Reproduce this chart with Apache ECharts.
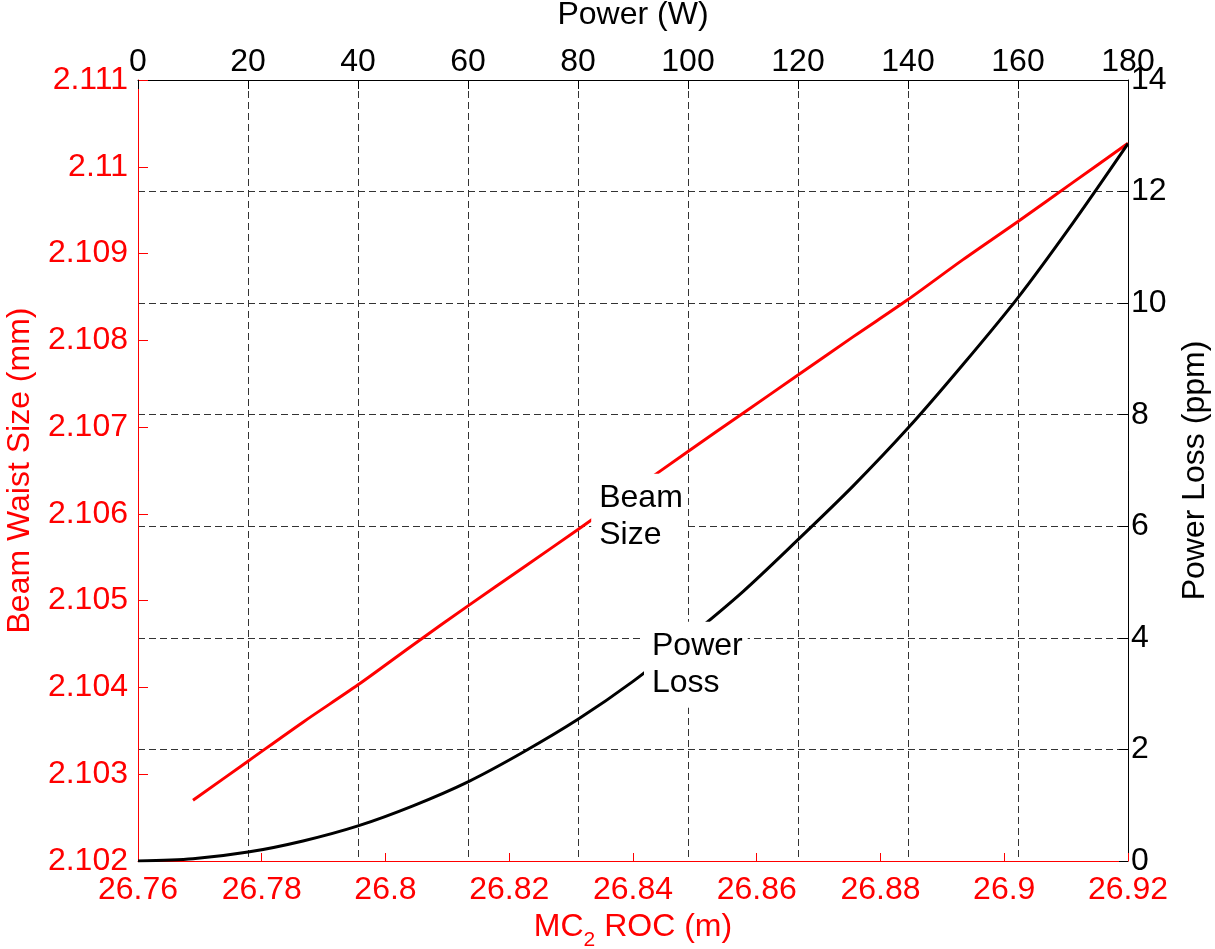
<!DOCTYPE html>
<html>
<head>
<meta charset="utf-8">
<script src="https://cdn.jsdelivr.net/npm/echarts@6/dist/echarts.min.js"></script>
<style>
  html, body { margin: 0; padding: 0; background: #fff; }
  #chart { width: 1215px; height: 949px; }
</style>
</head>
<body>
<div id="chart"></div>
<script>
// Beam waist size (mm) vs power (W)
var beamPower = [10, 20, 30, 40, 50, 60, 70, 80, 90, 100, 110, 120, 130, 140, 150, 160, 170, 180];
var beamSize = [2.10270, 2.10315, 2.10360, 2.10403, 2.10449, 2.10494, 2.10538, 2.10582, 2.10627,
                2.10672, 2.10716, 2.10760, 2.10804, 2.10847, 2.10893, 2.10937, 2.10982, 2.11027];

// Power loss (ppm) vs power (W)
var lossPower = [0, 10, 20, 30, 40, 50, 60, 70, 80, 90, 100, 110, 120, 130, 140, 150, 160, 170, 180];
var powerLoss = [0, 0.04, 0.16, 0.36, 0.63, 0.99, 1.42, 1.95, 2.54, 3.22, 4.00, 4.83, 5.76, 6.72,
                 7.76, 8.90, 10.10, 11.44, 12.86];

// axis ranges: [min, max, interval]
var rocRange = [26.76, 26.92, 0.02];
var powerRange = [0, 180, 20];
var sizeRange = [2.102, 2.111, 0.001];
var lossRange = [0, 14, 2];

// text annotations: [power, ppm, text]
var notes = [
  [82.4, 6.17, "Beam\nSize"],
  [92.0, 3.52, "Power\nLoss"]
];

var FONT = "'Liberation Sans', Arial, Helvetica, sans-serif";
var RED = "#ff0000";
var FS = 32;

function pairs(xs, ys) {
  return xs.map(function (x, i) { return [x, ys[i]]; });
}

var gridDash = { color: "#333", width: 1, type: [7, 4] };

var chart = echarts.init(document.getElementById("chart"));

var option = {
  animation: false,
  backgroundColor: "#fff",
  textStyle: { fontFamily: FONT },
  grid: { left: 138, right: 87, top: 80, bottom: 88, containLabel: false, outerBoundsMode: "none" },
  xAxis: [
    {
      type: "value",
      position: "bottom",
      min: rocRange[0], max: rocRange[1], interval: rocRange[2],
      name: "{a|MC}{b|2}{a| ROC (m)}",
      nameLocation: "middle",
      nameGap: 43,
      nameTextStyle: {
        rich: {
          a: { fontSize: FS, color: RED, fontFamily: FONT, lineHeight: FS, verticalAlign: "top" },
          b: { fontSize: 21, color: RED, fontFamily: FONT, lineHeight: 21, padding: [19, 0, 0, 0], verticalAlign: "top" }
        }
      },
      axisLine: { lineStyle: { color: RED, width: 1 } },
      axisTick: { inside: true, length: 8, lineStyle: { color: RED } },
      axisLabel: { color: RED, fontSize: FS, margin: 13, fontFamily: FONT },
      splitLine: { show: false }
    },
    {
      type: "value",
      position: "top",
      min: powerRange[0], max: powerRange[1], interval: powerRange[2],
      name: "Power (W)",
      nameLocation: "middle",
      nameGap: 49,
      nameTextStyle: { color: "#000", fontSize: FS, fontFamily: FONT },
      axisLine: { lineStyle: { color: "#000", width: 1 } },
      axisTick: { inside: true, length: 9, lineStyle: { color: "#000" } },
      axisLabel: { color: "#000", fontSize: FS, margin: 2, fontFamily: FONT },
      splitLine: { show: true, lineStyle: gridDash }
    }
  ],
  yAxis: [
    {
      type: "value",
      position: "left",
      min: sizeRange[0], max: sizeRange[1], interval: sizeRange[2],
      name: "Beam Waist Size (mm)",
      nameLocation: "middle",
      nameGap: 102,
      nameRotate: 90,
      nameTextStyle: { color: RED, fontSize: FS, fontFamily: FONT },
      axisLine: { show: true, lineStyle: { color: RED, width: 1 } },
      axisTick: { inside: true, length: 10, lineStyle: { color: RED } },
      axisLabel: { color: RED, fontSize: FS, margin: 10, fontFamily: FONT },
      splitLine: { show: false }
    },
    {
      type: "value",
      position: "right",
      min: lossRange[0], max: lossRange[1], interval: lossRange[2],
      name: "Power Loss (ppm)",
      nameLocation: "middle",
      nameGap: 51,
      nameRotate: 90,
      nameTextStyle: { color: "#000", fontSize: FS, fontFamily: FONT },
      axisLine: { show: true, lineStyle: { color: "#000", width: 1 } },
      axisTick: { inside: true, length: 9, lineStyle: { color: "#000" } },
      axisLabel: { color: "#000", fontSize: FS, margin: 3, fontFamily: FONT },
      splitLine: { show: true, lineStyle: gridDash }
    }
  ],
  series: [
    {
      name: "Beam Size",
      type: "line",
      xAxisIndex: 1,
      yAxisIndex: 0,
      data: pairs(beamPower, beamSize),
      showSymbol: false,
      smooth: 0.3,
      lineStyle: { color: RED, width: 3 },
      z: 3
    },
    {
      name: "Power Loss",
      type: "line",
      xAxisIndex: 1,
      yAxisIndex: 1,
      data: pairs(lossPower, powerLoss),
      showSymbol: false,
      smooth: 0.3,
      lineStyle: { color: "#000", width: 3 },
      z: 4
    }
  ]
};

chart.setOption(option);

// etiquetas con fondo blanco, ancladas a coordenadas de datos
var graphics = notes.map(function (n) {
  var p = chart.convertToPixel({ xAxisIndex: 1, yAxisIndex: 1 }, [n[0], n[1]]);
  return {
    type: "text",
    z: 100,
    x: p[0],
    y: p[1],
    style: {
      text: n[2],
      fill: "#000",
      font: FS + "px " + FONT,
      lineHeight: 37,
      align: "left",
      verticalAlign: "middle",
      backgroundColor: "#fff",
      padding: [9, 5, 3, 8]
    }
  };
});
chart.setOption({ graphic: graphics });
</script>
</body>
</html>
